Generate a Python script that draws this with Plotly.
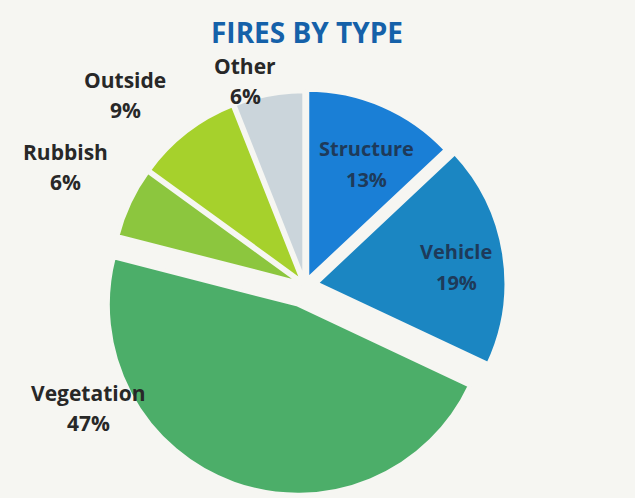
import plotly.graph_objects as go

labels = ["Structure", "Vehicle", "Vegetation", "Rubbish", "Outside", "Other"]
values = [13, 19, 47, 6, 9, 6]
pct_text = ["13%", "19%", "47%", "6%", "9%", "6%"]
colors = ["#1a7fd6", "#1b86c2", "#4cae69", "#8cc63e", "#a6d12c", "#cbd5db"]
pulls = [0.03, 0.06, 0.11, 0.02, 0.02, 0.02]

BG = "#f6f6f2"
W, H = 635, 498

fig = go.Figure(go.Pie(
    labels=labels, values=values, sort=False, direction="clockwise", rotation=0,
    marker=dict(colors=colors, line=dict(color=BG, width=4)),
    pull=pulls, textinfo="none", hoverinfo="label+percent",
    domain=dict(x=[94 / W, 516 / W], y=[(H - 496) / H, (H - 74) / H]),
    showlegend=False,
))

# label placements (pixel coords of label centres)
label_pos = {
    "Structure": (366, 164, "#1e3a5a", 20),
    "Vehicle": (456, 267, "#1e3a5a", 20),
    "Vegetation": (88, 408, "#282828", 21),
    "Rubbish": (65, 167, "#282828", 21),
    "Outside": (125, 95, "#282828", 21),
    "Other": (245, 81, "#282828", 21),
}
for lab, pct in zip(labels, pct_text):
    px, py, col, fs = label_pos[lab]
    for txt, dy in ((lab, -15), (pct, 15)):
        fig.add_annotation(
            x=px / W, y=1 - (py + dy) / H, xref="paper", yref="paper",
            text=f"<b>{txt}</b>", showarrow=False,
            font=dict(family="Open Sans", size=fs, color=col),
            xanchor="center", yanchor="middle",
        )

fig.add_annotation(
    x=307 / W, y=1 - 32 / H, xref="paper", yref="paper",
    text="<b>FIRES BY TYPE</b>", showarrow=False,
    font=dict(family="Open Sans", size=28, color="#1561a9"),
    xanchor="center", yanchor="middle",
)

fig.update_layout(
    width=W, height=H, margin=dict(l=0, r=0, t=0, b=0),
    paper_bgcolor=BG, plot_bgcolor=BG,
)

fig.write_html(
    "out.html",
    config={"displayModeBar": False},
    post_script="document.body.style.margin='0';document.body.style.background='%s';" % BG,
)
